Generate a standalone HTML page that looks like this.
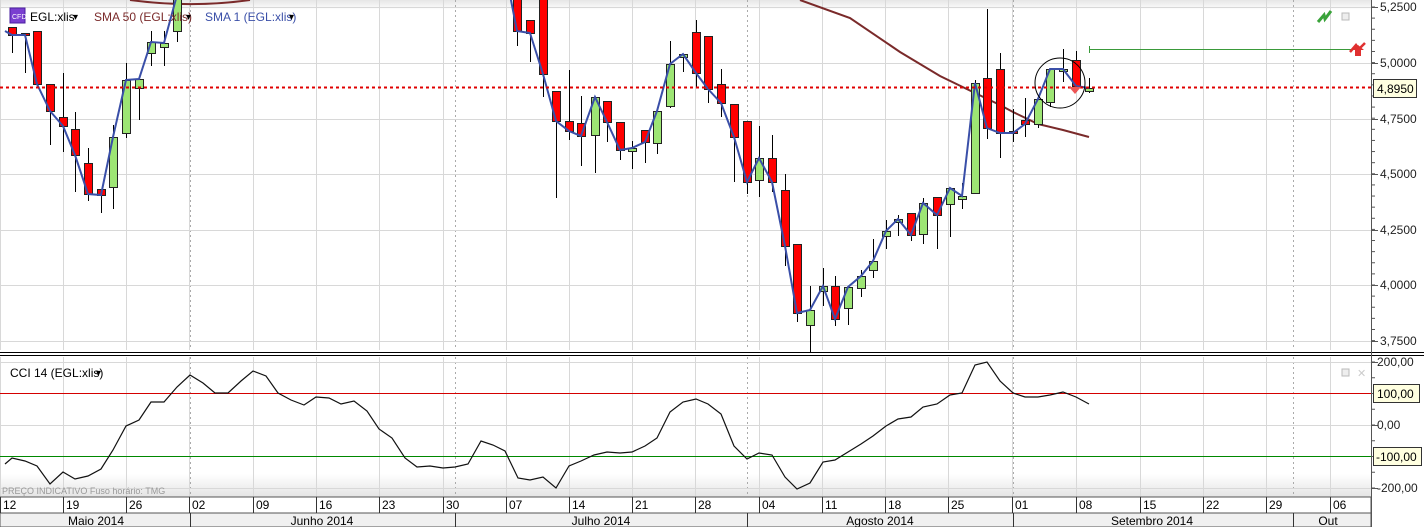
<!DOCTYPE html>
<html><head><meta charset="utf-8"><style>
html,body{margin:0;padding:0;background:#fff;width:1424px;height:527px;overflow:hidden}
svg{display:block;font-family:"Liberation Sans",sans-serif}
</style></head><body>
<svg id="s" width="1424" height="527" xmlns="http://www.w3.org/2000/svg">
<defs>
<linearGradient id="tg" x1="0" y1="0" x2="0" y2="1"><stop offset="0" stop-color="#e6e6e6"/><stop offset="1" stop-color="#fff"/></linearGradient>
<linearGradient id="bg" x1="0" y1="0" x2="0" y2="1"><stop offset="0" stop-color="#fff"/><stop offset="1" stop-color="#e4e4e4"/></linearGradient>
</defs>
<rect x="0" y="0" width="1371" height="10" fill="url(#tg)"/>
<rect x="0" y="474" width="1371" height="23" fill="url(#bg)"/>
<g id="grid"></g>
<g id="cs"></g>
<g id="ov"></g>
</svg>
<script>
const S=document.getElementById('s'),NS='http://www.w3.org/2000/svg';
function el(t,a,p){const e=document.createElementNS(NS,t);for(const k in a)e.setAttribute(k,a[k]);(p||S).appendChild(e);return e}
function tx(x,y,s,a){const e=el('text',Object.assign({x:x,y:y,'font-size':11,fill:'#000'},a||{}));e.textContent=s;return e}
const G=document.getElementById('grid'),C=document.getElementById('cs'),O=document.getElementById('ov');
// vertical week grid
const wk=[0,63,126,189,253,316,379,443,506,569,632,695,759,822,885,948,1012,1076,1140,1203,1266,1330];
wk.forEach(x=>{el('line',{x1:x+.5,y1:0,x2:x+.5,y2:350,stroke:'#d8d8d8'},G);el('line',{x1:x+.5,y1:357,x2:x+.5,y2:497,stroke:'#d8d8d8'},G);});
// month dotted
[190,455,747,1013,1293].forEach(x=>{el('line',{x1:x+.5,y1:0,x2:x+.5,y2:350,stroke:'#aaa','stroke-dasharray':'2,3'},G);el('line',{x1:x+.5,y1:357,x2:x+.5,y2:497,stroke:'#aaa','stroke-dasharray':'2,3'},G);});
// horizontal price grid
[7,63,119,174,230,285,341].forEach(y=>el('line',{x1:0,y1:y+.5,x2:1371,y2:y+.5,stroke:'#d8d8d8'},G));
[362,425,488].forEach(y=>el('line',{x1:0,y1:y+.5,x2:1371,y2:y+.5,stroke:'#d8d8d8'},G));
el('line',{x1:0,y1:393.5,x2:1371,y2:393.5,stroke:'#d40000'},G);
el('line',{x1:0,y1:456.5,x2:1371,y2:456.5,stroke:'#008800'},G);
// separator
el('line',{x1:0,y1:352.5,x2:1424,y2:352.5,stroke:'#000'},G);
el('line',{x1:0,y1:355.5,x2:1424,y2:355.5,stroke:'#000'},G);
// right axis
el('line',{x1:1371.5,y1:0,x2:1371.5,y2:527,stroke:'#555'},G);
[['5,2500',7],['5,0000',63],['4,7500',119],['4,5000',174],['4,2500',230],['4,0000',285],['3,7500',341]].forEach(([t,y])=>{tx(1380,y+4,t,{'font-size':12,fill:'#222'});el('line',{x1:1372,y1:y+.5,x2:1378,y2:y+.5,stroke:'#555'},G)});
for(let y=7;y<350;y+=11.12){el('line',{x1:1372,y1:y,x2:1375,y2:y,stroke:'#555'},G)}
[['200,00',362],['0,00',425],['-200,00',488]].forEach(([t,y])=>{tx(1377,y+4,t,{'font-size':12,fill:'#222'});el('line',{x1:1372,y1:y+.5,x2:1378,y2:y+.5,stroke:'#555'},G)});
for(let y=362;y<495;y+=15.75){el('line',{x1:1372,y1:y,x2:1375,y2:y,stroke:'#555'},G)}
// date axis
el('rect',{x:0,y:497,width:1371,height:16,fill:'#fff',stroke:'#555'},G);
el('rect',{x:0,y:513,width:1371,height:14,fill:'#f0f0f0',stroke:'#555'},G);
const dl=['12','19','26','02','09','16','23','30','07','14','21','28','04','11','18','25','01','08','15','22','29','06'];
wk.forEach((x,i)=>{el('line',{x1:x+.5,y1:497,x2:x+.5,y2:513,stroke:'#333'},G);tx(x+3,509,dl[i],{'font-size':12});});
[190,455,747,1013,1293].forEach(x=>el('line',{x1:x+.5,y1:513,x2:x+.5,y2:527,stroke:'#333'},G));
[['Maio 2014',96],['Junho 2014',322],['Julho 2014',601],['Agosto 2014',880],['Setembro 2014',1152],['Out',1328]].forEach(([t,x])=>tx(x,525,t,{'font-size':12,'text-anchor':'middle'}));
tx(2,494,'PREÇO INDICATIVO   Fuso horário: TMG',{'font-size':9,fill:'#999'});
// candles [x,bodyTop,bodyBot,high,low,green]
const cd=[[12,27,35,27,53,0],[25,33,35,33,73,0],[37,31,84,31,84,0],[50,84,111,84,145,0],[63,117,126,73,152,0],[75,129,155,112,192,0],[88,163,194,148,201,0],[101,189,195,189,213,0],[113,137,187,125,209,1],[126,80,133,63,138,1],[139,79,88,79,120,1],[151,42,53,31,66,1],[164,43,47,31,66,1],[177,-5,31,-5,42,1],
[517,-5,31,-5,46,0],[530,20,33,20,62,0],[543,-5,74,-5,97,0],[556,91,121,91,198,0],[569,121,131,70,140,0],[581,123,136,96,166,0],[595,97,135,97,173,1],[607,101,122,101,142,0],[620,122,150,122,160,0],[632,148,151,141,169,1],[645,130,142,130,163,0],[657,111,143,111,154,1],[670,64,106,41,108,1],[683,54,57,54,72,1],[696,32,73,20,88,0],[708,36,89,36,103,0],[721,84,103,69,117,0],[734,104,137,104,182,0],[747,121,182,121,194,0],[759,158,180,126,197,1],[772,158,182,135,192,0],[785,190,246,174,266,0],[797,244,313,244,322,0],[810,310,325,286,352,1],[823,286,291,268,306,1],[835,286,319,276,326,0],[848,287,308,287,325,1],[861,276,288,270,297,1],[873,261,270,239,278,1],[886,231,236,220,249,1],[898,219,222,215,236,1],[911,213,235,213,241,0],[923,203,234,198,244,1],[937,197,215,197,249,0],[950,188,204,188,237,1],[962,196,199,183,209,1],[975,83,193,80,193,1],[987,78,128,9,139,0],[1000,69,133,53,158,0],[1013,131,133,109,142,0],[1025,120,124,98,137,0],[1038,99,124,99,128,1],[1050,69,102,69,107,1],[1063,69,71,49,82,1],[1076,60,86,51,92,0],[1089,88,91,78,93,1]];
// SMA50
el('path',{d:'M130,0 C160,4 200,7 250,0',fill:'none',stroke:'#7a2a2a','stroke-width':2},C);
el('path',{d:'M800,0 L850,18 L900,52 L940,76 L975,93 L1000,105 L1013,112 L1038,124 L1063,130 L1089,137',fill:'none',stroke:'#7a2a2a','stroke-width':2},C);
cd.forEach(([x,t,b,h,l,g])=>{el('line',{x1:x+.5,y1:h,x2:x+.5,y2:l,stroke:'#000'},C);el('rect',{x:x-3.5,y:t+.5,width:8,height:Math.max(b-t,2),fill:g?'#9de574':'#ff0000',stroke:'#222'},C);});
// SMA1
function pl(arr){return arr.map((p,i)=>(i?'L':'M')+p[0]+','+p[1]).join(' ')}
const cl=c=>[c[0],c[5]?c[1]:c[2]];
el('path',{d:pl([[5,31]].concat(cd.slice(0,14).map(cl)).concat([[183,-5]])),fill:'none',stroke:'#3a4fa8','stroke-width':2},O);
el('path',{d:pl([[510,-5]].concat(cd.slice(14).map(cl))),fill:'none',stroke:'#3a4fa8','stroke-width':2},O);
// red dotted current price
el('line',{x1:0,y1:87.5,x2:1371,y2:87.5,stroke:'#e00000','stroke-width':2,'stroke-dasharray':'3,3'},O);
el('circle',{cx:1060,cy:83,r:25,fill:'none',stroke:'#000'},O);
el('path',{d:'M1069,87 L1081,87 L1075,94 Z',fill:'#e55'},O);
el('line',{x1:1089,y1:49.5,x2:1352,y2:49.5,stroke:'#3a9a3a'},O);
el('line',{x1:1089.5,y1:46,x2:1089.5,y2:53,stroke:'#3a9a3a'},O);
el('path',{d:'M1318,22 L1324,15 L1325,19 L1331,11',fill:'none',stroke:'#3aa33a','stroke-width':3},O);
el('rect',{x:1342,y:13,width:7,height:7,fill:'#eee',stroke:'#bbb'},O);
el('path',{d:'M1350,52 L1356,45 L1359,49 L1365,43',fill:'none',stroke:'#e03030','stroke-width':2.5},O);
el('path',{d:'M1355,56 L1355,50 L1352,50 L1358,45 L1364,50 L1361,50 L1361,56 Z',fill:'#e03030'},O);
el('rect',{x:1342,y:369,width:7,height:7,fill:'#eee',stroke:'#bbb'},O);
tx(1357,377,'✕',{'font-size':11,fill:'#ccc'});
// price label
el('rect',{x:1373.5,y:79.5,width:43,height:18,fill:'#ffffe0',stroke:'#333'},O);
tx(1377,93,'4,8950',{'font-size':12});
el('rect',{x:1373.5,y:384.5,width:46,height:18,fill:'#ffffe0',stroke:'#333'},O);
tx(1377,398,'100,00',{'font-size':12});
el('rect',{x:1373.5,y:447.5,width:48,height:18,fill:'#ffffe0',stroke:'#333'},O);
tx(1376,461,'-100,00',{'font-size':12});
// CCI
const cci=[[5,464],[12,458],[25,461],[37,466],[50,484],[63,472],[75,479],[88,476],[101,469],[113,450],[126,426],[139,420],[151,402],[164,402],[177,387],[190,375],[203,383],[215,393],[228,393],[241,381],[253,371],[266,376],[278,393],[291,400],[304,405],[316,397],[329,398],[341,404],[354,401],[367,411],[379,429],[392,438],[405,458],[417,467],[430,466],[443,468],[455,467],[468,464],[481,441],[493,445],[505,451],[518,478],[530,480],[543,477],[556,488],[569,466],[581,461],[594,455],[607,452],[620,453],[632,452],[645,446],[657,438],[670,412],[683,402],[696,399],[708,404],[721,414],[734,446],[747,459],[759,453],[772,455],[785,477],[797,489],[810,483],[823,462],[835,460],[848,452],[861,444],[873,436],[886,426],[898,419],[911,417],[923,407],[937,404],[950,395],[962,393],[975,365],[987,362],[1000,381],[1013,393],[1025,397],[1038,397],[1050,395],[1063,392],[1076,397],[1089,404]];
el('path',{d:pl(cci),fill:'none',stroke:'#111','stroke-width':1.2},O);
// legends
el('rect',{x:10,y:8,width:15,height:15,fill:'#7a3fd0',stroke:'#4a1fa0'},O);
tx(12,19,'CFD',{'font-size':7,fill:'#fff'});
tx(30,21,'EGL:xlis',{'font-size':12});
tx(73,20,'▾',{'font-size':10});
tx(94,21,'SMA 50 (EGL:xlis)',{'font-size':12,fill:'#7a2a2a'});
tx(186,20,'▾',{'font-size':10});
tx(205,21,'SMA 1 (EGL:xlis)',{'font-size':12,fill:'#3a4fa8'});
tx(289,20,'▾',{'font-size':10});
tx(10,377,'CCI 14 (EGL:xlis)',{'font-size':12});
tx(96,376,'▾',{'font-size':10});
</script>
</body></html>
